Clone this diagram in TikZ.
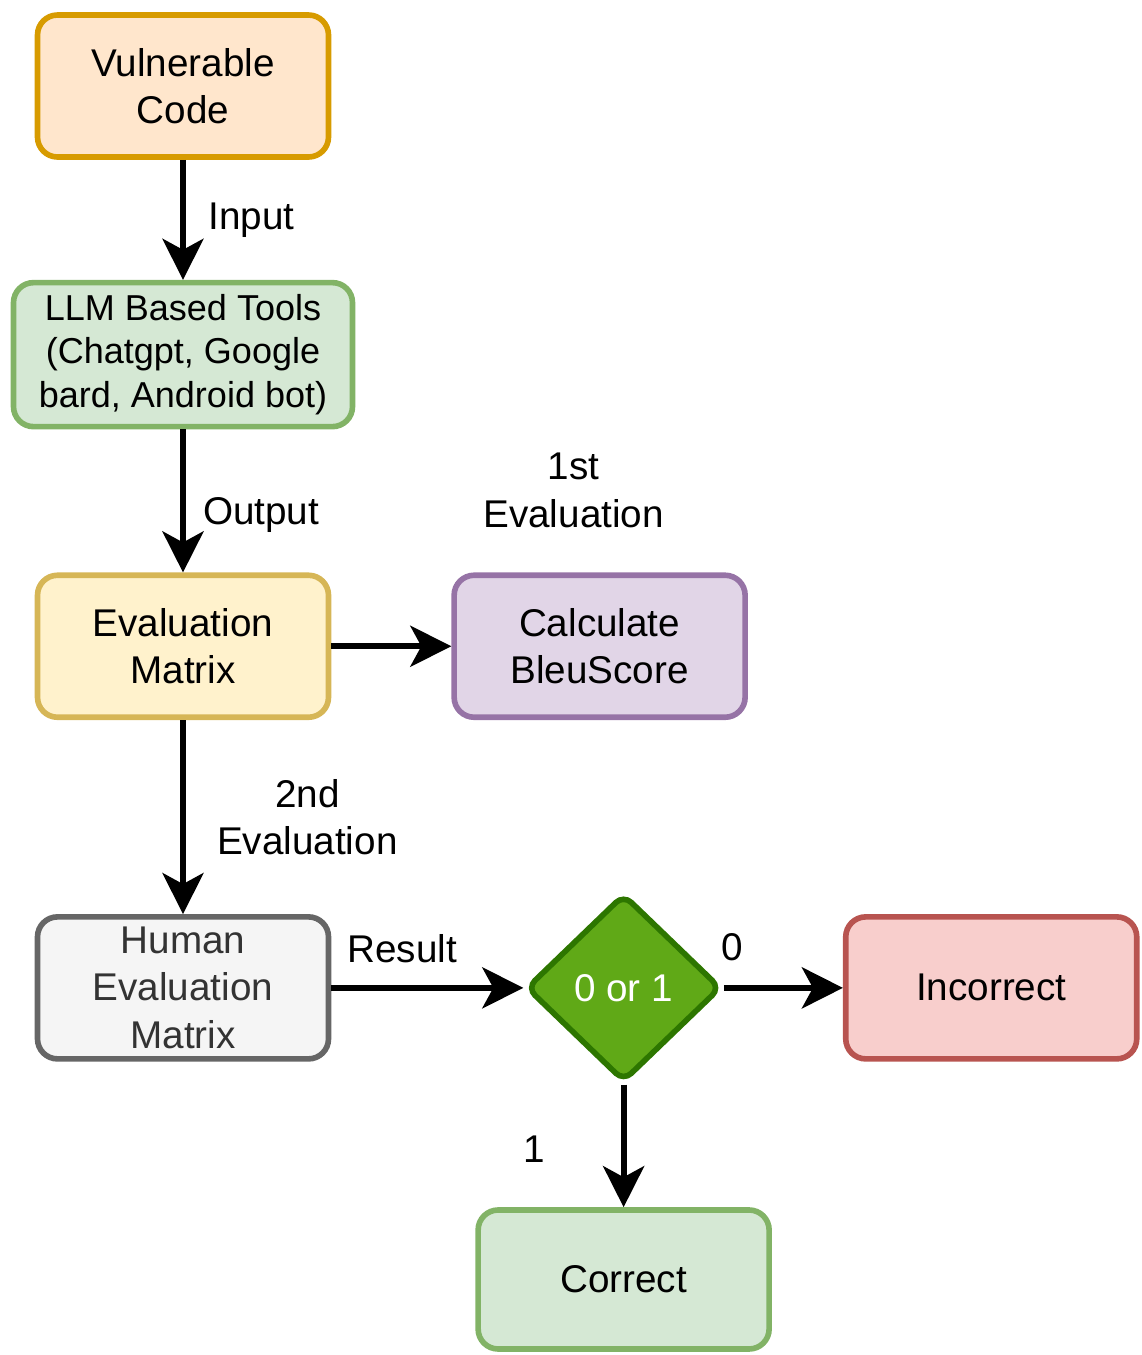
\documentclass[tikz,border=0pt]{standalone}
\usepackage{fontspec}
\setmainfont{Liberation Sans}
\usetikzlibrary{positioning, arrows.meta, shapes.geometric}

\definecolor{orangefill}{HTML}{FFE6CC}
\definecolor{orangeline}{HTML}{D79B00}
\definecolor{greenfill}{HTML}{D5E8D4}
\definecolor{greenline}{HTML}{82B366}
\definecolor{yellowfill}{HTML}{FFF2CC}
\definecolor{yellowline}{HTML}{D6B656}
\definecolor{purplefill}{HTML}{E1D5E7}
\definecolor{purpleline}{HTML}{9673A6}
\definecolor{grayfill}{HTML}{F5F5F5}
\definecolor{grayline}{HTML}{666666}
\definecolor{grayfont}{HTML}{333333}
\definecolor{decfill}{HTML}{60A917}
\definecolor{decline}{HTML}{2D7600}
\definecolor{redfill}{HTML}{F8CECC}
\definecolor{redline}{HTML}{B85450}

\begin{document}
\begin{tikzpicture}[
        font=\fontsize{22}{27}\selectfont,
        >={Stealth[length=0.82cm, width=0.82cm, inset=0.22cm]},
        node distance=2.4cm,
        box/.style={
            draw,
            line width=3.2pt,
            rounded corners=0.4cm,
            align=center,
            minimum width=5.82cm,
            minimum height=2.84cm
        },
        flow/.style={->, line width=3.4pt},
        lbl/.style={inner sep=2pt, align=center}
    ]

    \useasboundingbox (0,0) rectangle (22.82,-27.1);

    % --- INPUT ---
    \node[box, draw=orangeline, fill=orangefill] (code) at (3.66,-1.72) {Vulnerable\\Code};

    % --- TOOLS ---
    \node[box, draw=greenline, fill=greenfill, minimum width=6.78cm, minimum height=2.88cm,
          font=\fontsize{20.5}{25}\selectfont, below=of code] (llm) {
    LLM Based Tools\\
    (Chatgpt, Google\\
    bard, Android bot)
    };

    % --- EVALUATION ---
    \node[box, draw=yellowline, fill=yellowfill, below=2.86cm of llm] (evalm) {Evaluation\\Matrix};
    \node[box, draw=purpleline, fill=purplefill, right=of evalm] (bleu) {Calculate\\BleuScore};
    \node[lbl, above=0.82cm of bleu, xshift=-0.52cm] (first) {1st\\Evaluation};

    % --- HUMAN CHECK ---
    \node[box, draw=grayline, fill=grayfill, text=grayfont, below=3.88cm of evalm] (human) {
    Human\\
    Evaluation\\
    Matrix
    };
    \node[diamond, draw=decline, fill=decfill, text=white, line width=3.2pt,
          rounded corners=6pt, minimum width=3.9cm, minimum height=3.76cm,
          right=3.84cm of human] (dec) {0 or 1};

    % --- OUTCOMES ---
    \node[box, draw=redline, fill=redfill, right=2.38cm of dec] (wrong) {Incorrect};
    \node[box, draw=greenline, fill=greenfill, minimum height=2.78cm, below=2.45cm of dec] (right) {Correct};

    % --- ARROWS ---
    \draw[flow] (code) -- node[lbl, right=0.38cm] {Input} (llm);
    \draw[flow] (llm) -- node[lbl, pos=0.6, right=0.27cm] {Output} (evalm);
    \draw[flow] (evalm) -- (bleu);
    \draw[flow] (evalm) -- node[lbl, right=0.55cm] {2nd\\Evaluation} (human);
    \draw[flow] (human) -- node[lbl, pos=0.37, above=0.37cm] {Result} (dec);
    \draw[flow] (dec) -- node[lbl, pos=0, anchor=south, xshift=0.16cm, yshift=0.41cm] {0} (wrong);
    \draw[flow] (dec) -- node[lbl, pos=0.53, left=1.44cm] {1} (right);

\end{tikzpicture}
\end{document}
